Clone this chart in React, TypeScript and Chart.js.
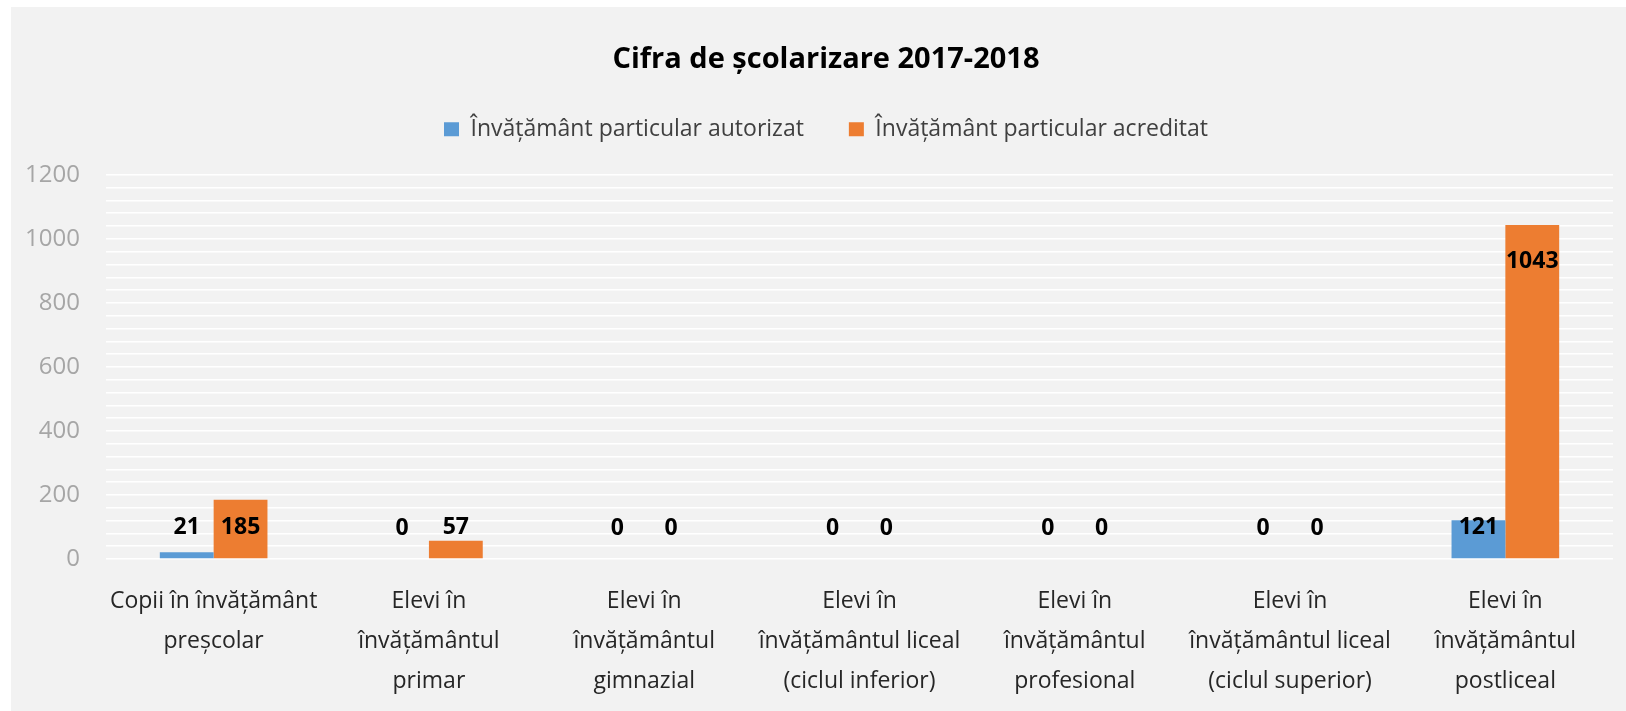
import React, { useEffect, useRef } from "react";
import { Chart, registerables } from "chart.js";

Chart.register(...registerables);

const chartTitle = "Cifra de școlarizare 2017-2018";
const categories: string[][] = [
  ["Copii în învățământ", "preșcolar"],
  ["Elevi în", "învățământul", "primar"],
  ["Elevi în", "învățământul", "gimnazial"],
  ["Elevi în", "învățământul liceal", "(ciclul inferior)"],
  ["Elevi în", "învățământul", "profesional"],
  ["Elevi în", "învățământul liceal", "(ciclul superior)"],
  ["Elevi în", "învățământul", "postliceal"],
];
const seriesNames = ["Învățământ particular autorizat", "Învățământ particular acreditat"];
const autorizat = [21, 0, 0, 0, 0, 0, 121];
const acreditat = [185, 57, 0, 0, 0, 0, 1043];
const yMin = 0;
const yMax = 1200;
const yMinorStep = 40;
const yMajorStep = 200;

const FONT = "'Open Sans', 'Noto Sans', sans-serif";

const valueLabels = {
  id: "valueLabels",
  afterDatasetsDraw(chart: any) {
    const ctx = chart.ctx;
    ctx.save();
    ctx.font = `bold 23px ${FONT}`;
    ctx.fillStyle = "#000000";
    ctx.textAlign = "center";
    ctx.textBaseline = "middle";
    chart.data.datasets.forEach((ds: any, i: number) => {
      const meta = chart.getDatasetMeta(i);
      meta.data.forEach((el: any, j: number) => {
        const y = Math.min(el.y + 36, el.base - 31);
        ctx.fillText(String(ds.data[j]), el.x, y);
      });
    });
    ctx.restore();
  },
};

const legendSpacing = {
  id: "legendSpacing",
  beforeInit(chart: any) {
    const legend = chart.legend;
    if (!legend) return;
    const origFit = legend.fit;
    legend.fit = function () {
      origFit.call(this);
      this.height += 24;
    };
  },
};

export default function App() {
  const ref = useRef<HTMLCanvasElement | null>(null);
  useEffect(() => {
    if (!ref.current) return;
    const chart = new Chart(ref.current, {
      type: "bar",
      data: {
        labels: categories,
        datasets: [
          { label: seriesNames[0], data: autorizat, backgroundColor: "#5b9bd5", borderWidth: 0 },
          { label: seriesNames[1], data: acreditat, backgroundColor: "#ed7d31", borderWidth: 0 },
        ],
      },
      options: {
        animation: false,
        responsive: true,
        maintainAspectRatio: false,
        layout: { padding: { left: 15, right: 0, top: 0, bottom: 0 } },
        datasets: { bar: { categoryPercentage: 0.5, barPercentage: 1.0 } },
        plugins: {
          title: {
            display: true,
            text: chartTitle,
            color: "#000000",
            font: { family: FONT, size: 29, weight: "bold" },
            padding: { top: 35, bottom: -4 },
          },
          legend: {
            display: true,
            position: "top",
            labels: {
              color: "#404040",
              font: { family: FONT, size: 23 },
              boxWidth: 15,
              boxHeight: 14,
              padding: 45,
            },
          },
          tooltip: { enabled: false },
        },
        scales: {
          x: {
            grid: { display: false, drawTicks: false },
            border: { display: false },
            ticks: {
              color: "#262626",
              font: { family: FONT, size: 23, lineHeight: 1.74 },
              maxRotation: 0,
              autoSkip: false,
              padding: 22,
            },
            afterFit: (s: any) => {
              s.height = 152;
              s.paddingLeft = 0;
              s.paddingRight = 0;
            },
          },
          y: {
            min: yMin,
            max: yMax,
            grid: { color: "#ffffff", lineWidth: 1.5, drawTicks: false },
            border: { display: false },
            ticks: {
              stepSize: yMinorStep,
              autoSkip: false,
              color: "#a6a6a6",
              font: { family: FONT, size: 24 },
              padding: 26,
              callback: (v: any) => (Number(v) % yMajorStep === 0 ? String(v) : ""),
            },
            afterFit: (s: any) => {
              s.width = 80;
            },
          },
          yRight: {
            type: "linear",
            position: "right",
            display: true,
            grid: { display: false, drawTicks: false },
            border: { display: false },
            ticks: { display: false },
            afterFit: (s: any) => {
              s.width = 13;
            },
          },
        },
      },
      plugins: [valueLabels, legendSpacing],
    });
    return () => chart.destroy();
  }, []);
  return (
    <div
      style={{
        position: "fixed",
        left: 11,
        top: 7,
        right: 0,
        bottom: 0,
        background: "#f2f2f2",
      }}
    >
      <canvas ref={ref} />
    </div>
  );
}
